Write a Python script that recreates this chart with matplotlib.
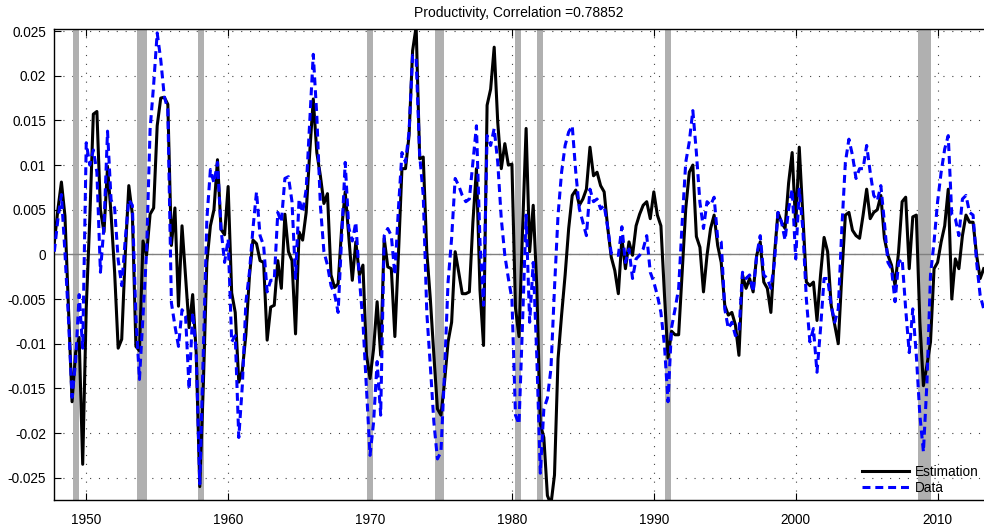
import numpy as np
import matplotlib
matplotlib.use("Agg")
import matplotlib.pyplot as plt

plt.rcParams['font.family'] = ['Liberation Sans', 'DejaVu Sans']

start_year = 1947.75
step = 0.25

estimation = [
    0.0013, 0.0050, 0.0081, 0.0043, -0.0060, -0.0165, -0.0110, -0.0093, -0.0235, -0.0060,
    0.0040, 0.0157, 0.0160, 0.0050, 0.0025, 0.0098, 0.0045, -0.0020, -0.0105, -0.0095,
    0.0000, 0.0077, 0.0045, -0.0103, -0.0108, 0.0015, -0.0001, 0.0045, 0.0052, 0.0144,
    0.0175, 0.0176, 0.0168, 0.0010, 0.0052, -0.0058, 0.0032, -0.0025, -0.0082, -0.0045,
    -0.0110, -0.0260, -0.0147, -0.0009, 0.0032, 0.0050, 0.0106, 0.0028, 0.0022, 0.0076,
    -0.0043, -0.0065, -0.0143, -0.0130, -0.0090, -0.0025, 0.0016, 0.0012, -0.0007, -0.0009,
    -0.0096, -0.0059, -0.0057, -0.0007, -0.0038, 0.0045, 0.0003, -0.0007, -0.0089, 0.0025,
    0.0016, 0.0047, 0.0114, 0.0174, 0.0114, 0.0088, 0.0057, 0.0068, -0.0023, -0.0037,
    -0.0033, 0.0029, 0.0070, 0.0021, -0.0029, 0.0014, -0.0023, -0.0012, -0.0113, -0.0139,
    -0.0106, -0.0053, -0.0113, 0.0018, -0.0014, -0.0016, -0.0092, -0.0001, 0.0096, 0.0096,
    0.0133, 0.0228, 0.0255, 0.0107, 0.0109, 0.0003, -0.0050, -0.0113, -0.0173, -0.0180,
    -0.0143, -0.0098, -0.0076, 0.0003, -0.0020, -0.0044, -0.0044, -0.0042, 0.0036, 0.0096,
    -0.0040, -0.0102, 0.0167, 0.0185, 0.0232, 0.0148, 0.0096, 0.0124, 0.0100, 0.0101,
    -0.0060, -0.0092, 0.0028, 0.0141, 0.0003, 0.0055, -0.0035, -0.0190, -0.0205, -0.0270,
    -0.0280, -0.0247, -0.0117, -0.0068, -0.0023, 0.0029, 0.0066, 0.0072, 0.0055, 0.0062,
    0.0073, 0.0120, 0.0088, 0.0092, 0.0077, 0.0070, 0.0030, -0.0003, -0.0018, -0.0044,
    0.0018, -0.0016, 0.0014, -0.0001, 0.0032, 0.0045, 0.0055, 0.0059, 0.0040, 0.0070,
    0.0044, 0.0032, -0.0045, -0.0116, -0.0086, -0.0090, -0.0090, -0.0020, 0.0051, 0.0092,
    0.0100, 0.0020, 0.0008, -0.0042, -0.0001, 0.0029, 0.0044, 0.0010, -0.0009, -0.0057,
    -0.0068, -0.0065, -0.0079, -0.0113, -0.0023, -0.0038, -0.0027, -0.0042, -0.0001, 0.0014,
    -0.0031, -0.0038, -0.0065, -0.0001, 0.0047, 0.0036, 0.0029, 0.0080, 0.0114, 0.0032,
    0.0120, 0.0044, -0.0031, -0.0035, -0.0031, -0.0074, -0.0023, 0.0019, 0.0003, -0.0057,
    -0.0079, -0.0100, -0.0023, 0.0044, 0.0047, 0.0027, 0.0021, 0.0018, 0.0044, 0.0073,
    0.0040, 0.0047, 0.0050, 0.0066, 0.0018, -0.0001, -0.0012, -0.0035, 0.0003, 0.0059,
    0.0064, -0.0016, 0.0042, 0.0044, -0.0076, -0.0147, -0.0124, -0.0098, -0.0016, -0.0009,
    0.0014, 0.0032, 0.0073, -0.0050, -0.0005, -0.0016, 0.0021, 0.0044, 0.0036, 0.0036,
    -0.0001, -0.0027, -0.0016,
]

data = [
    0.0003, 0.0039, 0.0067, 0.0002, -0.0073, -0.0160, -0.0120, -0.0045, -0.0105, 0.0125,
    0.0100, 0.0117, 0.0092, -0.0020, 0.0032, 0.0138, 0.0061, 0.0052, -0.0006, -0.0035,
    0.0017, 0.0061, 0.0055, -0.0070, -0.0140, -0.0070, 0.0002, 0.0140, 0.0190, 0.0248,
    0.0218, 0.0177, 0.0162, -0.0054, -0.0080, -0.0103, -0.0062, -0.0069, -0.0151, -0.0065,
    -0.0110, -0.0257, -0.0110, 0.0039, 0.0095, 0.0080, 0.0103, 0.0028, -0.0009, 0.0017,
    -0.0098, -0.0091, -0.0205, -0.0147, -0.0054, -0.0020, 0.0029, 0.0070, 0.0021, 0.0010,
    -0.0042, -0.0029, -0.0029, 0.0047, 0.0036, 0.0085, 0.0087, 0.0059, -0.0027, 0.0062,
    0.0047, 0.0073, 0.0148, 0.0224, 0.0155, 0.0055, 0.0003, -0.0012, -0.0035, -0.0044,
    -0.0065, 0.0018, 0.0103, 0.0030, 0.0015, 0.0036, -0.0027, -0.0076, -0.0150, -0.0225,
    -0.0188, -0.0120, -0.0180, 0.0021, 0.0029, 0.0021, -0.0023, 0.0051, 0.0114, 0.0103,
    0.0137, 0.0223, 0.0219, 0.0111, 0.0066, -0.0065, -0.0125, -0.0188, -0.0229, -0.0221,
    -0.0132, -0.0031, 0.0018, 0.0085, 0.0077, 0.0066, 0.0059, 0.0062, 0.0103, 0.0144,
    0.0014, -0.0057, 0.0133, 0.0122, 0.0141, 0.0103, 0.0040, -0.0001, -0.0027, -0.0050,
    -0.0180, -0.0190, -0.0076, 0.0044, -0.0076, -0.0009, -0.0113, -0.0245, -0.0173, -0.0161,
    -0.0128, -0.0038, 0.0044, 0.0092, 0.0122, 0.0137, 0.0144, 0.0092, 0.0051, 0.0036,
    0.0021, 0.0073, 0.0059, 0.0062, 0.0051, 0.0055, 0.0030, 0.0001, -0.0001, -0.0001,
    0.0031, -0.0009, 0.0006, -0.0027, -0.0005, -0.0001, 0.0006, 0.0021, -0.0020, -0.0031,
    -0.0046, -0.0065, -0.0102, -0.0165, -0.0082, -0.0061, -0.0038, 0.0036, 0.0103, 0.0126,
    0.0161, 0.0114, 0.0058, 0.0029, 0.0059, 0.0055, 0.0064, 0.0018, 0.0014, -0.0061,
    -0.0083, -0.0076, -0.0091, -0.0087, -0.0020, -0.0027, -0.0023, -0.0042, -0.0001, 0.0021,
    -0.0023, -0.0027, -0.0038, -0.0009, 0.0047, 0.0036, 0.0016, 0.0051, 0.0073, -0.0005,
    0.0073, 0.0029, -0.0050, -0.0098, -0.0083, -0.0132, -0.0083, -0.0027, -0.0027, -0.0057,
    -0.0076, -0.0061, 0.0029, 0.0103, 0.0129, 0.0111, 0.0085, 0.0096, 0.0096, 0.0122,
    0.0092, 0.0066, 0.0060, 0.0077, 0.0036, -0.0009, -0.0016, -0.0053, -0.0009, -0.0005,
    -0.0061, -0.0110, -0.0061, -0.0113, -0.0180, -0.0221, -0.0143, -0.0023, 0.0014, 0.0059,
    0.0092, 0.0118, 0.0133, 0.0044, 0.0040, 0.0021, 0.0062, 0.0066, 0.0047, 0.0044,
    -0.0009, -0.0046, -0.0061,
]

recession_start = [1949.10, 1953.60, 1957.85, 1969.76, 1974.60, 1980.22, 1981.77, 1990.80, 2008.60]
recession_end   = [1949.50, 1954.25, 1958.27, 1970.19, 1975.24, 1980.65, 1982.22, 1991.23, 2009.50]

x_ticks = [1950, 1960, 1970, 1980, 1990, 2000, 2010]
y_ticks = [-0.025, -0.02, -0.015, -0.01, -0.005, 0, 0.005, 0.01, 0.015, 0.02, 0.025]
y_tick_labels = ['-0.025', '-0.02', '-0.015', '-0.01', '-0.005', '0',
                 '0.005', '0.01', '0.015', '0.02', '0.025']
title = 'Productivity, Correlation =0.78852'

t = start_year + step * np.arange(len(estimation))

fig = plt.figure(figsize=(9.84, 5.29), dpi=100)
ax = fig.add_axes([0.0552, 0.0548, 0.9448, 0.8898])

ax.set_xlim(1947.75, 2013.27)
ax.set_ylim(-0.0275, 0.0252)

ax.set_xticks(x_ticks)
ax.set_yticks(y_ticks)
ax.set_yticklabels(y_tick_labels)
ax.grid(True, color='#444444', linestyle=(0, (1, 7)), linewidth=0.8, zorder=0)
ax.set_axisbelow(True)

for s, e in zip(recession_start, recession_end):
    ax.axvspan(s, e, color='#b0b0b0', lw=0, zorder=1)

ax.axhline(0, color='#808080', lw=1.0, zorder=1.5)

ax.plot(t, estimation, color='black', lw=2.2, label='Estimation', zorder=3)
ax.plot(t, data, color='#0000ff', lw=2.2, linestyle=(0, (2.6, 1.6)), label='Data', zorder=4)

ax.tick_params(direction='in', length=5, width=0.8, labelsize=9.8, top=True, right=False,
               colors='black')
ax.tick_params(axis='x', pad=9)
ax.tick_params(axis='y', pad=6)
for side in ['left', 'bottom', 'top']:
    ax.spines[side].set_linewidth(1.0)
ax.spines['right'].set_visible(False)

ax.set_title(title, fontsize=10, pad=9)

ax.legend(loc='lower right', frameon=False, fontsize=9.8, handlelength=3.5,
          borderaxespad=0.0, labelspacing=0.15, handletextpad=0.4,
          bbox_to_anchor=(1.0, 0.0))

fig.savefig('out.png', dpi=100)
